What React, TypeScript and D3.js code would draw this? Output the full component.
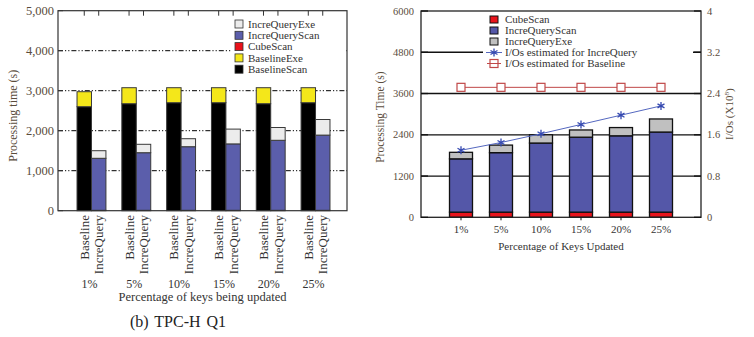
import React from "react";
import * as d3 from "d3";

// shared categories
const pcts = ["1%", "5%", "10%", "15%", "20%", "25%"];

// left chart (TPC-H Q1), processing time in s
const baselineScan = [2600, 2675, 2700, 2700, 2675, 2700];
const baselineExe = [375, 400, 375, 375, 400, 375];
const q1CubeScan = [10, 10, 10, 10, 10, 10];
const q1IncreScan = [1300, 1440, 1590, 1660, 1750, 1880];
const q1IncreExe = [190, 210, 200, 370, 320, 390];
const leftTicks = [0, 1000, 2000, 3000, 4000, 5000];

// right chart
const cubeScan = [150, 150, 150, 150, 150, 150];
const increScan = [1550, 1730, 2010, 2180, 2220, 2330];
const increExe = [190, 220, 240, 210, 240, 380];
const ioIncre = [1.3, 1.45, 1.62, 1.8, 1.98, 2.16];
const ioBase = [2.52, 2.52, 2.52, 2.52, 2.52, 2.52];
const rightTicksL = [0, 1200, 2400, 3600, 4800, 6000];
const rightTicksR = [0, 0.8, 1.6, 2.4, 3.2, 4];

const FONT = "'Liberation Serif', 'DejaVu Serif', serif";
const TICK_COLOR = "#5a4c3c";

function LeftChart() {
  const x0 = 58, x1 = 347, yTop = 10.7, yBot = 210.7;
  const y = d3.scaleLinear().domain([0, 5000]).range([yBot, yTop]);
  const gx = d3.scaleBand().domain(pcts).range([60, 347]).paddingInner(0.355).paddingOuter(0.38);
  const sub = d3.scaleBand().domain(["Baseline", "IncreQuery"]).range([0, gx.bandwidth()]);
  const fmt = d3.format(",");

  const baseStack = pcts.map((p, i) => {
    const segs = [
      { v: baselineScan[i], c: "#000000" },
      { v: baselineExe[i], c: "#f4e71a" },
    ];
    return { p, segs };
  });
  const incStack = pcts.map((p, i) => ({
    p,
    segs: [
      { v: q1CubeScan[i], c: "#e8111a" },
      { v: q1IncreScan[i], c: "#5b5eab" },
      { v: q1IncreExe[i], c: "#ececec" },
    ],
  }));

  const drawStack = (stack, key) =>
    stack.map((d) => {
      let acc = 0;
      const bx = (gx(d.p) as number) + (sub(key) as number);
      return d.segs.map((s, j) => {
        const y0 = acc;
        acc += s.v;
        return (
          <rect
            key={key + d.p + j}
            x={bx}
            y={y(acc)}
            width={sub.bandwidth()}
            height={y(y0) - y(acc)}
            fill={s.c}
            stroke="#3a3a3a"
            strokeWidth={1}
          />
        );
      });
    });

  const legend = [
    { t: "IncreQueryExe", c: "#ececec" },
    { t: "IncreQueryScan", c: "#5b5eab" },
    { t: "CubeScan", c: "#e8111a" },
    { t: "BaselineExe", c: "#f4e71a" },
    { t: "BaselineScan", c: "#000000" },
  ];

  return (
    <g fontFamily={FONT}>
      {leftTicks.slice(1, 5).map((t) => (
        <line key={t} x1={x0} x2={x1} y1={y(t)} y2={y(t)} stroke="#000" strokeWidth={1} strokeDasharray="5,2,1.2,2,1.2,2" />
      ))}
      <rect x={232} y={16} width={113} height={60} fill="#fff" />
      {drawStack(baseStack, "Baseline")}
      {drawStack(incStack, "IncreQuery")}
      <rect x={x0} y={yTop} width={x1 - x0} height={yBot - yTop} fill="none" stroke="#333" strokeWidth={1.2} />
      {pcts.flatMap((p) =>
        ["Baseline", "IncreQuery"].map((k) => {
          const cx = (gx(p) as number) + (sub(k) as number) + sub.bandwidth() / 2;
          return <line key={p + k} x1={cx} x2={cx} y1={yTop} y2={yTop + 5} stroke="#333" />;
        })
      )}
      {leftTicks.map((t) => (
        <g key={t}>
          <line x1={x0} x2={x0 + 5} y1={y(t)} y2={y(t)} stroke="#333" />
          <text x={54} y={y(t)} dy="0.35em" textAnchor="end" fontSize={12.5} fill={TICK_COLOR}>
            {fmt(t)}
          </text>
        </g>
      ))}
      {legend.map((l, i) => (
        <g key={l.t} transform={`translate(235,${24 + i * 11.3})`}>
          <rect x={0} y={-4} width={8} height={8} fill={l.c} stroke="#333" strokeWidth={0.8} />
          <text x={13} y={0} dy="0.35em" fontSize={11} fill="#333">
            {l.t}
          </text>
        </g>
      ))}
      {pcts.flatMap((p) =>
        ["Baseline", "IncreQuery"].map((k) => {
          const cx = (gx(p) as number) + (sub(k) as number) + sub.bandwidth() / 2;
          return (
            <text
              key={"l" + p + k}
              transform={`translate(${cx},215) rotate(-90)`}
              textAnchor="end"
              dy="0.35em"
              fontSize={13}
              fill="#333"
            >
              {k}
            </text>
          );
        })
      )}
      {pcts.map((p) => (
        <text key={"p" + p} x={(gx(p) as number) + gx.bandwidth() / 2 - 2} y={288} textAnchor="middle" fontSize={12} fill="#333">
          {p}
        </text>
      ))}
      <text x={(x0 + x1) / 2} y={301} textAnchor="middle" fontSize={12.5} fill="#333">
        Percentage of keys being updated
      </text>
      <text transform={`translate(17,${(yTop + yBot) / 2 + 5}) rotate(-90)`} textAnchor="middle" fontSize={12} fill={TICK_COLOR}>
        Processing time (s)
      </text>
      <text x={178} y={327} textAnchor="middle" fontSize={16} fill="#222" wordSpacing={2}>
        (b) TPC-H Q1
      </text>
    </g>
  );
}

function RightChart() {
  const x0 = 421, x1 = 701, yTop = 11, yBot = 217.3;
  const y = d3.scaleLinear().domain([0, 6000]).range([yBot, yTop]);
  const y2 = d3.scaleLinear().domain([0, 4]).range([yBot, yTop]);
  const x = d3.scalePoint().domain(pcts).range([x0, x1]).padding(1);
  const bw = 23;

  const series = pcts.map((p, i) => ({ p, cube: cubeScan[i], scan: increScan[i], exe: increExe[i] }));
  const stack = d3.stack().keys(["cube", "scan", "exe"])(series as any);
  const colors = { cube: "#e8141c", scan: "#5457a8", exe: "#c0c0c0" };

  const incLine = d3
    .line<number>()
    .x((_, i) => x(pcts[i]) as number)
    .y((d) => y2(d));
  const star = d3.symbol().type(d3.symbolAsterisk).size(45)();
  const legend = [
    { t: "CubeScan", k: "rect", c: colors.cube },
    { t: "IncreQueryScan", k: "rect", c: colors.scan },
    { t: "IncreQueryExe", k: "rect", c: colors.exe },
    { t: "I/Os estimated for IncreQuery", k: "star", c: "#3448b0" },
    { t: "I/Os estimated for Baseline", k: "sq", c: "#c04848" },
  ];

  return (
    <g fontFamily={FONT}>
      {rightTicksL.slice(1, 5).map((t) => (
        <line key={t} x1={x0} x2={x1} y1={y(t)} y2={y(t)} stroke="#111" strokeWidth={1.3} />
      ))}
      <rect x={483} y={13} width={210} height={58} fill="#fff" />
      {stack.map((layer) =>
        layer.map((d, i) => (
          <rect
            key={layer.key + i}
            x={(x(pcts[i]) as number) - bw / 2}
            y={y(d[1])}
            width={bw}
            height={y(d[0]) - y(d[1])}
            fill={colors[layer.key]}
            stroke="#111"
            strokeWidth={1.3}
          />
        ))
      )}
      <path d={incLine(ioBase) || ""} fill="none" stroke="#c04848" strokeWidth={1} />
      {ioBase.map((v, i) => (
        <rect key={"b" + i} x={(x(pcts[i]) as number) - 4} y={y2(v) - 4} width={8} height={8} fill="#fff" stroke="#c04848" strokeWidth={1.2} />
      ))}
      <path d={incLine(ioIncre) || ""} fill="none" stroke="#5568c0" strokeWidth={1} />
      {ioIncre.map((v, i) => (
        <path key={"s" + i} d={star || ""} transform={`translate(${x(pcts[i])},${y2(v)})`} fill="none" stroke="#3448b0" strokeWidth={1.3} />
      ))}
      <rect x={x0} y={yTop} width={x1 - x0} height={yBot - yTop} fill="none" stroke="#222" strokeWidth={1.3} />
      {rightTicksL.map((t) => (
        <g key={"l" + t}>
          <line x1={x0} x2={x0 + 7} y1={y(t)} y2={y(t)} stroke="#111" strokeWidth={1.3} />
          <text x={414} y={y(t)} dy="0.35em" textAnchor="end" fontSize={10.5} fill={TICK_COLOR}>
            {t}
          </text>
        </g>
      ))}
      {rightTicksR.map((t) => (
        <g key={"r" + t}>
          <line x1={x1 - 7} x2={x1} y1={y2(t)} y2={y2(t)} stroke="#111" strokeWidth={1.3} />
          <text x={707} y={y2(t)} dy="0.35em" fontSize={10.5} fill={TICK_COLOR}>
            {t}
          </text>
        </g>
      ))}
      {pcts.map((p) => (
        <g key={"x" + p}>
          <line x1={x(p)} x2={x(p)} y1={yBot} y2={yBot + 3} stroke="#111" />
          <text x={x(p)} y={233} textAnchor="middle" fontSize={11} fill="#333">
            {p}
          </text>
        </g>
      ))}
      <text x={(x0 + x1) / 2} y={250} textAnchor="middle" fontSize={11} fill="#333">
        Percentage of Keys Updated
      </text>
      <text transform={`translate(384,${(yTop + yBot) / 2 + 3}) rotate(-90)`} textAnchor="middle" fontSize={11.5} fill={TICK_COLOR}>
        Processing Time (s)
      </text>
      <text transform={`translate(733,${(yTop + yBot) / 2}) rotate(-90)`} textAnchor="middle" fontSize={11} fill={TICK_COLOR}>
        I/Os (X10
        <tspan fontSize={7} dy={-4}>8</tspan>
        <tspan dy={4}>)</tspan>
      </text>
      {legend.map((l, i) => (
        <g key={l.t} transform={`translate(494,${19.5 + i * 11})`}>
          {l.k === "rect" && <rect x={-4} y={-3.5} width={8} height={7} fill={l.c} stroke="#111" strokeWidth={1} />}
          {l.k === "star" && (
            <>
              <line x1={-8} x2={8} y1={0} y2={0} stroke="#5568c0" />
              <path d={star || ""} fill="none" stroke={l.c} strokeWidth={1.3} />
            </>
          )}
          {l.k === "sq" && (
            <>
              <line x1={-7} x2={7} y1={0} y2={0} stroke={l.c} />
              <rect x={-4} y={-4} width={8} height={8} fill="none" stroke={l.c} strokeWidth={1.2} />
            </>
          )}
          <text x={11} y={0} dy="0.35em" fontSize={11} fill="#333">
            {l.t}
          </text>
        </g>
      ))}
    </g>
  );
}

export default function App() {
  return (
    <svg width={754} height={337} style={{ position: "absolute", left: 0, top: 0, background: "#fff" }}>
      <LeftChart />
      <RightChart />
    </svg>
  );
}
